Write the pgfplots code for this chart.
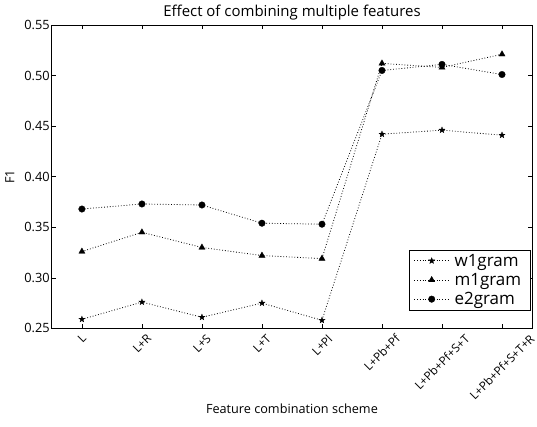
\documentclass[border=0pt]{standalone}
\usepackage{fontspec}
\setmainfont{Open Sans}
\usepackage{graphicx}
\usepackage{pgfplots}
\pgfplotsset{compat=1.18}
\pgfdeclareplotmark{fstar}{%
  \pgfpathmoveto{\pgfpointpolar{90}{\pgfplotmarksize}}%
  \pgfpathlineto{\pgfpointpolar{126}{0.42\pgfplotmarksize}}%
  \pgfpathlineto{\pgfpointpolar{162}{\pgfplotmarksize}}%
  \pgfpathlineto{\pgfpointpolar{198}{0.42\pgfplotmarksize}}%
  \pgfpathlineto{\pgfpointpolar{234}{\pgfplotmarksize}}%
  \pgfpathlineto{\pgfpointpolar{270}{0.42\pgfplotmarksize}}%
  \pgfpathlineto{\pgfpointpolar{306}{\pgfplotmarksize}}%
  \pgfpathlineto{\pgfpointpolar{342}{0.42\pgfplotmarksize}}%
  \pgfpathlineto{\pgfpointpolar{18}{\pgfplotmarksize}}%
  \pgfpathlineto{\pgfpointpolar{54}{0.42\pgfplotmarksize}}%
  \pgfpathclose
  \pgfusepathqfillstroke}
\newcommand{\rl}[1]{\rotatebox{45}{#1}}
\begin{document}
\begin{tikzpicture}
\begin{axis}[name=ax, scale only axis, width=481pt, height=304pt,
  xmin=-0.5, xmax=7.5, ymin=0.25, ymax=0.55,
  xtick={0,1,2,3,4,5,6,7},
  xticklabels={{\rl{L}},{\rl{L+R}},{\rl{L+S}},{\rl{L+T}},{\rl{L+Pl}},{\rl{L+Pb+Pf}},{\rl{L+Pb+Pf+S+T}},{\rl{L+Pb+Pf+S+T+R}}},
  ytick={0.25,0.30,0.35,0.40,0.45,0.50,0.55},
  /pgf/number format/assume math mode=true,
  yticklabel style={/pgf/number format/fixed, /pgf/number format/fixed zerofill, /pgf/number format/precision=2, font=\fontsize{12.8}{15}\selectfont, inner sep=2pt},
  xticklabel style={anchor=north, inner sep=0pt, yshift=-5pt, font=\fontsize{11.8}{14}\selectfont},
  tick align=inside, major tick length=4pt,
  tick style={black, line width=0.6pt},
  axis line style={black, line width=0.9pt},
  title={Effect of combining multiple features},
  title style={font=\fontsize{15}{17}\selectfont, at={(rel axis cs:0.5,1)}, anchor=south, yshift=-3pt, inner sep=2pt},
  xlabel={Feature combination scheme},
  xlabel style={font=\fontsize{12.7}{15}\selectfont, at={(rel axis cs:0.5,0)}, anchor=center, yshift=-81pt},
  ylabel={F1},
  ylabel style={font=\fontsize{12.7}{15}\selectfont, at={(axis description cs:-0.0875,0.5)}, anchor=center},
  legend cell align=left,
  legend style={at={(0.997,0.059)}, anchor=south east, draw=black, line width=0.9pt, fill=white,
    font=\fontsize{17}{19}\selectfont, row sep=1.5pt, inner xsep=4pt, inner ysep=2pt,
    nodes={inner xsep=5pt}},
  legend image code/.code={\draw[#1, mark repeat=2, mark phase=2] plot coordinates {(0pt,0pt) (17.5pt,0pt) (35pt,0pt)};},
]
\addplot[black, line width=0.8pt, dash pattern=on 0.8pt off 2pt, mark=fstar, mark size=3.2pt, mark options={solid, fill=black, line width=0.3pt}] coordinates {(0,0.259) (1,0.276) (2,0.261) (3,0.275) (4,0.258) (5,0.442) (6,0.446) (7,0.441)};
\addlegendentry{w1gram}
\addplot[black, line width=0.8pt, dash pattern=on 0.8pt off 2pt, mark=triangle*, mark size=3.6pt, mark options={solid, fill=black, line width=0.3pt}] coordinates {(0,0.326) (1,0.345) (2,0.330) (3,0.322) (4,0.319) (5,0.512) (6,0.508) (7,0.521)};
\addlegendentry{m1gram}
\addplot[black, line width=0.8pt, dash pattern=on 0.8pt off 2pt, mark=*, mark size=3.3pt, mark options={solid, fill=black, line width=0.3pt}] coordinates {(0,0.368) (1,0.373) (2,0.372) (3,0.354) (4,0.353) (5,0.505) (6,0.511) (7,0.501)};
\addlegendentry{e2gram}
\end{axis}
\pgfresetboundingbox
\path (ax.south west) ++(-52pt,-98pt) coordinate (a);
\path (ax.north east) ++(5pt,25pt) coordinate (b);
\path (a) rectangle (b);
\end{tikzpicture}
\end{document}
